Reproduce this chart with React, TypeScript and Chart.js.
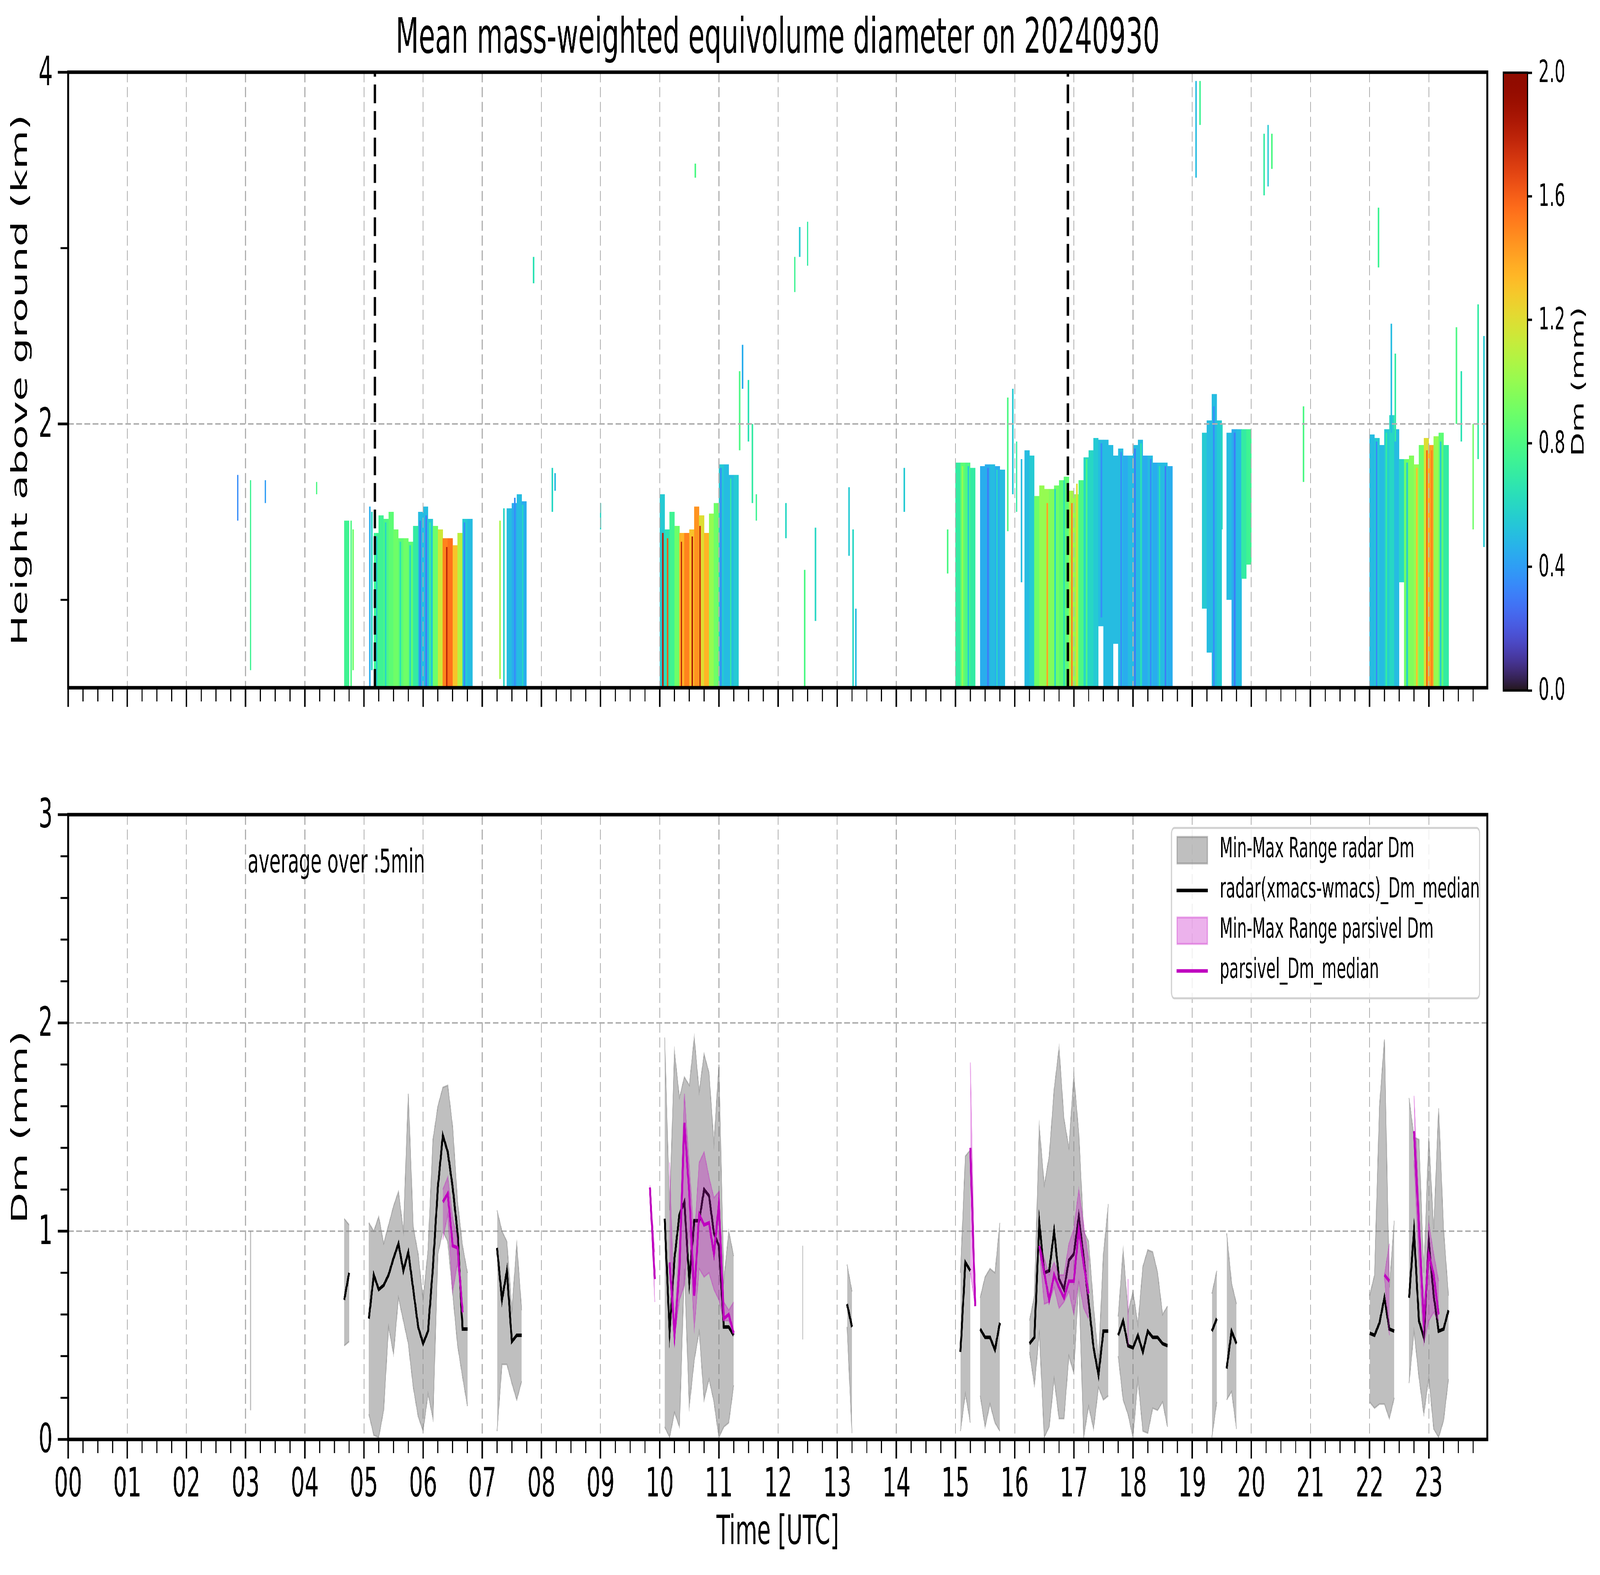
import React, { useEffect, useRef } from 'react';
import { Chart, registerables } from 'chart.js';

Chart.register(...registerables);
Chart.defaults.font.family = "'DejaVu Sans', sans-serif";
Chart.defaults.color = '#000';

// ---------- tick labels ----------
const hourTicks = ['00', '01', '02', '03', '04', '05', '06', '07', '08', '09', '10', '11',
  '12', '13', '14', '15', '16', '17', '18', '19', '20', '21', '22', '23'];
const heightTicks = [2, 4];
const dmTicks = [0, 1, 2, 3];
const cbTicks = [0, 0.4, 0.8, 1.2, 1.6, 2.0];

// ---------- top panel: radar Dm columns (5-min bins, start time) ----------
const colStart = ['04:40',
  '05:10', '05:15', '05:20', '05:25', '05:30', '05:35', '05:40', '05:45', '05:50', '05:55',
  '06:00', '06:05', '06:10', '06:15', '06:20', '06:25', '06:30', '06:35', '06:40', '06:45',
  '07:25', '07:30', '07:35', '07:40',
  '10:00', '10:05', '10:10', '10:15', '10:20', '10:25', '10:30', '10:35', '10:40', '10:45',
  '10:50', '10:55', '11:00', '11:05', '11:10', '11:15',
  '15:00', '15:05', '15:10', '15:15', '15:25', '15:30', '15:35', '15:40', '15:45',
  '16:10', '16:15', '16:20', '16:25', '16:30', '16:35', '16:40', '16:45', '16:50', '16:55',
  '17:00', '17:05', '17:10', '17:15', '17:20', '17:25', '17:30', '17:35', '17:40', '17:45',
  '17:50', '17:55', '18:00', '18:05', '18:10', '18:15', '18:20', '18:25', '18:30', '18:35',
  '19:10', '19:15', '19:20', '19:25', '19:35', '19:40', '19:45', '19:50', '19:55',
  '22:00', '22:05', '22:10', '22:15', '22:20', '22:25', '22:30', '22:35', '22:40', '22:45',
  '22:50', '22:55', '23:00', '23:05', '23:10', '23:15'];
const colBase = [0.5,
  0.5, 0.5, 0.5, 0.5, 0.5, 0.5, 0.5, 0.5, 0.5, 0.5,
  0.5, 0.5, 0.5, 0.5, 0.5, 0.5, 0.5, 0.5, 0.5, 0.5,
  0.5, 0.5, 0.5, 0.5,
  0.5, 0.5, 0.5, 0.5, 0.5, 0.5, 0.5, 0.5, 0.5, 0.5,
  0.5, 0.5, 0.5, 0.5, 0.5, 0.5,
  0.5, 0.5, 0.5, 0.5, 0.5, 0.5, 0.5, 0.5, 0.5,
  0.5, 0.5, 0.5, 0.5, 0.5, 0.5, 0.5, 0.5, 0.5, 0.5,
  0.5, 0.5, 0.5, 0.5, 0.5, 0.85, 0.5, 0.5, 0.75, 0.5,
  0.5, 0.5, 0.5, 0.5, 0.5, 0.5, 0.5, 0.5, 0.5, 0.5,
  0.95, 0.7, 0.5, 0.5, 1.0, 0.5, 0.5, 1.12, 1.2,
  0.5, 0.5, 0.5, 0.5, 0.5, 0.5, 1.1, 0.5, 0.5, 0.5,
  0.5, 0.5, 0.5, 0.5, 0.5, 0.5];
const colTop = [1.45,
  1.38, 1.48, 1.46, 1.50, 1.40, 1.35, 1.35, 1.33, 1.42, 1.50,
  1.53, 1.46, 1.42, 1.40, 1.35, 1.35, 1.31, 1.38, 1.46, 1.46,
  1.52, 1.55, 1.60, 1.56,
  1.60, 1.40, 1.50, 1.42, 1.38, 1.38, 1.40, 1.53, 1.48, 1.38,
  1.49, 1.55, 1.77, 1.77, 1.71, 1.71,
  1.78, 1.78, 1.78, 1.75, 1.76, 1.77, 1.77, 1.76, 1.74,
  1.85, 1.82, 1.59, 1.65, 1.63, 1.63, 1.65, 1.68, 1.70, 1.62,
  1.60, 1.68, 1.81, 1.85, 1.92, 1.91, 1.91, 1.88, 1.82, 1.86,
  1.82, 1.82, 1.88, 1.91, 1.82, 1.82, 1.78, 1.78, 1.78, 1.76,
  1.95, 2.02, 2.17, 2.02, 1.95, 1.97, 1.97, 1.97, 1.97,
  1.94, 1.92, 1.88, 1.97, 2.05, 1.97, 1.80, 1.80, 1.82, 1.77,
  1.88, 1.92, 1.88, 1.93, 1.95, 1.88];
const colDm = [0.75,
  0.75, 0.75, 0.8, 0.85, 0.9, 0.85, 0.9, 0.85, 0.7, 0.5,
  0.5, 0.55, 0.9, 1.15, 1.5, 1.55, 1.3, 1.1, 0.55, 0.5,
  0.5, 0.45, 0.5, 0.45,
  0.55, 0.65, 0.75, 0.9, 1.35, 1.5, 1.3, 1.45, 1.2, 1.35,
  1.0, 0.9, 0.55, 0.5, 0.5, 0.55,
  0.7, 0.85, 0.8, 0.7, 0.45, 0.45, 0.5, 0.45, 0.5,
  0.5, 0.55, 0.9, 1.0, 1.0, 0.95, 0.9, 0.85, 0.85, 1.05,
  1.0, 0.8, 0.6, 0.6, 0.55, 0.5, 0.5, 0.5, 0.5, 0.5,
  0.45, 0.5, 0.5, 0.5, 0.45, 0.5, 0.45, 0.5, 0.5, 0.45,
  0.55, 0.5, 0.5, 0.55, 0.5, 0.45, 0.5, 0.7, 0.75,
  0.5, 0.55, 0.5, 0.55, 0.6, 0.5, 0.6, 0.9, 0.95, 1.0,
  0.9, 1.2, 1.4, 1.0, 0.85, 0.7];

// thin echoes and single-profile streaks (time, bottom km, top km, Dm)
const streakTime = ['02:52', '03:05', '03:20', '04:12', '04:47', '04:49', '05:06', '05:08', '07:18', '07:22',
  '07:52', '08:11', '08:14', '09:00', '10:36', '11:21', '11:24', '11:30', '11:34', '11:38',
  '12:08', '12:17', '12:22', '12:27', '12:30', '12:38', '13:12', '13:16', '13:19', '14:08',
  '14:52', '15:53', '15:58', '16:02', '16:07', '19:04', '19:08', '19:30', '20:13', '20:17',
  '20:21', '20:53', '22:09', '22:22', '22:26', '23:28', '23:33', '23:45', '23:50', '23:56',
  '05:57', '06:03', '06:24', '10:03', '10:08', '10:22', '10:33', '10:41', '16:33', '16:58',
  '22:58', '23:03',
  '05:13', '05:22', '05:37', '05:47', '06:07', '06:42', '07:33', '07:41', '11:02', '11:12',
  '15:07', '15:13', '15:33', '15:42', '16:41', '16:50', '17:03', '17:13', '17:28', '17:48',
  '18:02', '18:08', '18:18', '18:27', '18:33', '19:22', '19:43', '22:07', '22:17', '22:38',
  '22:48', '23:12'];
const streakBase = [1.45, 0.6, 1.55, 1.6, 0.5, 0.6, 0.5, 0.6, 0.55, 0.5,
  2.8, 1.5, 1.62, 1.4, 3.4, 1.85, 2.2, 1.9, 1.55, 1.45,
  1.35, 2.75, 2.95, 0.5, 2.9, 0.88, 1.25, 0.5, 0.5, 1.5,
  1.15, 1.39, 1.6, 1.5, 1.1, 3.4, 3.7, 1.4, 3.3, 3.35,
  3.45, 1.67, 2.89, 1.95, 1.9, 2.0, 1.9, 1.4, 1.8, 1.3,
  0.5, 0.5, 0.5, 0.5, 0.5, 0.5, 0.5, 0.5, 0.5, 0.5,
  0.5, 0.5,
  0.5, 0.5, 0.5, 0.5, 0.5, 0.5, 0.5, 0.5, 0.5, 0.5,
  0.5, 0.5, 0.5, 0.5, 0.5, 0.5, 0.5, 0.5, 0.9, 0.5,
  0.5, 0.5, 0.5, 0.5, 0.5, 0.5, 0.5, 0.5, 0.5, 0.5,
  0.5, 0.5];
const streakTop = [1.71, 1.68, 1.68, 1.67, 1.45, 1.40, 1.53, 1.50, 1.45, 1.52,
  2.95, 1.75, 1.72, 1.55, 3.48, 2.3, 2.45, 2.25, 2.0, 1.6,
  1.55, 2.95, 3.12, 1.17, 3.15, 1.41, 1.64, 1.40, 0.95, 1.75,
  1.40, 2.15, 2.2, 1.9, 1.8, 3.95, 3.95, 2.0, 3.65, 3.7,
  3.65, 2.1, 3.23, 2.57, 2.4, 2.55, 2.3, 2.0, 2.68, 2.5,
  1.45, 1.48, 1.30, 1.38, 1.35, 1.33, 1.36, 1.42, 1.55, 1.55,
  1.85, 1.85,
  1.36, 1.44, 1.33, 1.31, 1.44, 1.44, 1.58, 1.54, 1.75, 1.69,
  1.76, 1.76, 1.75, 1.74, 1.63, 1.68, 1.66, 1.80, 1.89, 1.84,
  1.86, 1.89, 1.80, 1.76, 1.76, 2.10, 1.95, 1.90, 1.95, 1.78,
  1.75, 1.90];
const streakDm = [0.35, 0.75, 0.4, 0.8, 0.8, 0.9, 0.45, 0.6, 1.05, 0.6,
  0.65, 0.6, 0.5, 0.6, 0.8, 0.8, 0.45, 0.65, 0.7, 0.75,
  0.6, 0.75, 0.55, 0.8, 0.7, 0.6, 0.55, 0.6, 0.5, 0.55,
  0.8, 0.8, 0.55, 0.7, 0.5, 0.5, 0.75, 0.6, 0.7, 0.55,
  0.8, 0.8, 0.75, 0.5, 0.7, 0.8, 0.65, 0.9, 0.7, 0.55,
  0.3, 0.3, 1.8, 1.8, 1.6, 1.8, 1.85, 1.75, 1.4, 1.5,
  1.6, 1.5,
  0.55, 0.6, 0.65, 0.6, 0.75, 0.35, 0.35, 0.6, 0.35, 0.7,
  1.0, 0.55, 0.3, 0.6, 0.6, 0.65, 1.2, 0.8, 0.35, 0.35,
  0.3, 0.65, 0.35, 0.65, 0.3, 0.35, 0.3, 0.35, 0.7, 0.55,
  1.3, 0.55];

// dashed reference times
const markerTimes = ['05:11', '16:54'];

// ---------- bottom panel: 5-min statistics (null = no data) ----------
const radarTime = ['03:05', '03:10', '04:40', '04:45', '04:50',
  '05:05', '05:10', '05:15', '05:20', '05:25', '05:30', '05:35', '05:40', '05:45', '05:50', '05:55',
  '06:00', '06:05', '06:10', '06:15', '06:20', '06:25', '06:30', '06:35', '06:40', '06:45', '06:50',
  '07:15', '07:20', '07:25', '07:30', '07:35', '07:40', '07:45',
  '10:05', '10:10', '10:15', '10:20', '10:25', '10:30', '10:35', '10:40', '10:45', '10:50', '10:55',
  '11:00', '11:05', '11:10', '11:15', '11:20', '12:25', '12:30', '13:10', '13:15', '13:20',
  '15:05', '15:10', '15:15', '15:20', '15:25', '15:30', '15:35', '15:40', '15:45', '15:50',
  '16:15', '16:20', '16:25', '16:30', '16:35', '16:40', '16:45', '16:50', '16:55',
  '17:00', '17:05', '17:10', '17:15', '17:20', '17:25', '17:30', '17:35', '17:40',
  '17:45', '17:50', '17:55', '18:00', '18:05', '18:10', '18:15', '18:20', '18:25', '18:30', '18:35', '18:40',
  '19:20', '19:25', '19:30', '19:35', '19:40', '19:45', '19:50',
  '22:00', '22:05', '22:10', '22:15', '22:20', '22:25', '22:30',
  '22:40', '22:45', '22:50', '22:55', '23:00', '23:05', '23:10', '23:15', '23:20'];
const radarMedian = [null, null, 0.67, 0.80, null,
  0.58, 0.79, 0.72, 0.74, 0.79, 0.87, 0.94, 0.81, 0.90, 0.72, 0.54,
  0.46, 0.52, 0.83, 1.21, 1.46, 1.38, 1.21, 0.99, 0.53, 0.53, null,
  0.92, 0.67, 0.81, 0.47, 0.50, 0.50, null,
  1.06, 0.52, 0.87, 1.08, 1.14, 0.76, 1.05, 1.05, 1.20, 1.17, 0.99,
  0.93, 0.54, 0.54, 0.50, null, null, null, 0.65, 0.54, null,
  0.42, 0.85, 0.81, null, 0.53, 0.49, 0.49, 0.43, 0.56, null,
  0.46, 0.49, 1.04, 0.80, 0.81, 1.00, 0.77, 0.72, 0.86,
  0.89, 1.07, 0.87, 0.66, 0.44, 0.31, 0.52, 0.52, null,
  0.50, 0.57, 0.45, 0.44, 0.50, 0.42, 0.52, 0.49, 0.49, 0.46, 0.45, null,
  0.52, 0.58, null, 0.34, 0.52, 0.46, null,
  0.51, 0.50, 0.56, 0.68, 0.53, 0.52, null,
  0.68, 1.00, 0.57, 0.49, 0.95, 0.69, 0.52, 0.53, 0.62];
const radarMin = [0.14, null, 0.45, 0.47, null,
  0.12, 0.02, 0.01, 0.14, 0.54, 0.41, 0.68, 0.57, 0.46, 0.25, 0.11,
  0.04, 0.22, 0.10, 0.89, 1.00, 0.95, 0.70, 0.45, 0.30, 0.16, null,
  0.04, 0.36, 0.36, 0.27, 0.19, 0.28, null,
  0.06, 0.01, 0.13, 0.06, 0.82, 0.16, 0.38, 0.52, 0.19, 0.29, 0.18,
  0.01, 0.06, 0.08, 0.26, null, 0.48, null, 0.54, 0.03, null,
  0.04, 0.22, 0.08, null, 0.21, 0.06, 0.17, 0.08, 0.04, null,
  0.42, 0.26, 0.51, 0.01, 0.06, 0.29, 0.10, 0.10, 0.40,
  0.32, 0.76, 0.01, 0.16, 0.05, 0.25, 0.19, 0.21, null,
  0.40, 0.19, 0.12, 0.01, 0.29, 0.04, 0.03, 0.15, 0.14, 0.18, 0.06, null,
  0.01, 0.18, null, 0.19, 0.23, 0.05, null,
  0.18, 0.15, 0.17, 0.17, 0.10, 0.20, null,
  0.27, 0.52, 0.30, 0.12, 0.30, 0.05, 0.01, 0.09, 0.29];
const radarMax = [1.00, null, 1.06, 1.03, null,
  1.04, 1.00, 1.07, 0.94, 1.03, 1.12, 1.19, 1.00, 1.66, 1.02, 0.89,
  0.67, 0.91, 1.44, 1.60, 1.69, 1.70, 1.50, 1.14, 0.93, 0.80, null,
  1.10, 1.00, 0.95, 0.62, 0.94, 0.62, null,
  1.93, 1.10, 1.86, 1.64, 1.74, 1.70, 1.93, 1.67, 1.85, 1.76, 1.42,
  1.80, 0.76, 1.00, 0.88, null, 0.93, null, 0.84, 0.71, null,
  0.80, 1.36, 1.39, null, 0.68, 0.78, 0.82, 0.80, 1.04, null,
  0.57, 0.69, 1.50, 1.22, 1.36, 1.68, 1.88, 1.54, 1.40,
  1.75, 1.47, 1.00, 0.95, 0.64, 0.38, 0.89, 1.13, null,
  0.59, 0.91, 0.61, 0.71, 0.55, 0.83, 0.91, 0.90, 0.80, 0.60, 0.64, null,
  0.70, 0.81, null, 0.99, 0.75, 0.65, null,
  0.69, 0.79, 1.60, 1.92, 0.73, 1.05, null,
  1.64, 1.45, 1.44, 0.80, 1.45, 1.01, 1.59, 1.01, 0.69];

const parsTime = ['06:20', '06:25', '06:30', '06:35', '06:40', '06:45',
  '09:50', '09:55', '10:00',
  '10:10', '10:15', '10:20', '10:25', '10:30', '10:35', '10:40', '10:45', '10:50', '10:55',
  '11:00', '11:05', '11:10', '11:15', '11:20',
  '15:15', '15:20', '15:25',
  '16:25', '16:30', '16:35', '16:40', '16:45', '16:50', '16:55', '17:00', '17:05', '17:10', '17:15', '17:20',
  '17:55', '18:00', '22:15', '22:20', '22:25',
  '22:45', '22:50', '22:55', '23:00', '23:05', '23:10'];
const parsMedian = [1.14, 1.18, 0.93, 0.92, 0.61, null,
  1.21, 0.77, null,
  0.85, 0.50, 0.82, 1.52, 1.18, 0.69, 1.08, 1.03, 1.04, 0.89,
  1.13, 0.58, 0.60, 0.51, null,
  1.40, 0.64, null,
  0.93, 0.80, 0.67, 0.79, 0.73, 0.68, 0.76, 0.76, 1.01, 0.84, 0.70, null,
  null, null, 0.79, 0.76, null,
  1.48, 1.03, 0.57, 0.89, 0.79, 0.60];
const parsMin = [0.96, 1.08, 0.71, 0.85, 0.60, null,
  1.20, 0.66, null,
  0.80, 0.49, 0.67, 0.74, 1.00, 0.53, 0.82, 0.78, 0.80, 0.72,
  0.67, 0.57, 0.57, 0.50, null,
  0.80, 0.64, null,
  0.92, 0.65, 0.66, 0.73, 0.63, 0.66, 0.71, 0.60, 0.76, 0.63, 0.58, null,
  0.45, null, 0.78, 0.50, null,
  1.34, 0.86, 0.46, 0.57, 0.61, 0.57];
const parsMax = [1.20, 1.26, 1.06, 0.96, 0.63, null,
  1.22, 0.90, null,
  1.33, 0.55, 0.95, 1.66, 1.31, 0.96, 1.33, 1.38, 1.26, 1.16,
  1.19, 0.66, 0.62, 0.66, null,
  1.81, 0.65, null,
  0.93, 0.87, 0.79, 0.85, 0.79, 0.79, 0.94, 1.01, 1.20, 1.03, 0.86, null,
  0.77, null, 0.79, 0.94, null,
  1.65, 1.14, 0.58, 1.04, 0.89, 0.76];

const legendLabels = ['Min-Max Range radar Dm', 'radar(xmacs-wmacs)_Dm_median',
  'Min-Max Range parsivel Dm', 'parsivel_Dm_median'];

// ---------- helpers ----------
const FIG_W = 7442;
const FIG_H = 4031;

const toH = (t: string) => {
  const [h, m] = t.split(':').map(Number);
  return h + m / 60;
};

function turbo(v: number) {
  const x = Math.max(0, Math.min(1, v));
  const r = 34.61 + x * (1172.33 - x * (10793.56 - x * (33300.12 - x * (38394.49 - x * 14825.05))));
  const g = 23.31 + x * (557.33 + x * (1225.33 - x * (3574.96 - x * (1073.77 + x * 707.56))));
  const b = 27.2 + x * (3211.1 - x * (15327.97 - x * (27814 - x * (22569.18 - x * 6838.66))));
  const c = (n: number) => Math.max(0, Math.min(255, Math.round(n)));
  return `rgb(${c(r)},${c(g)},${c(b)})`;
}
const DM_MAX = 2;

const FONT = 103;
const GRID = '#b0b0b0';
const DASH = [26, 12];
const GRAY_A = 'rgba(128,128,128,0.5)';
const MAG = '#bf00bf';
const MAG_A = 'rgba(191,0,191,0.3)';

const framePlugin = {
  id: 'frame',
  afterDraw(chart: any, _a: any, opts: any) {
    const { ctx, chartArea: ca } = chart;
    ctx.save();
    ctx.strokeStyle = '#000';
    ctx.lineWidth = opts.width || 9;
    ctx.strokeRect(ca.left, ca.top, ca.right - ca.left, ca.bottom - ca.top);
    ctx.restore();
  },
};

const minorTicksPlugin = {
  id: 'minorTicks',
  afterDraw(chart: any, _a: any, opts: any) {
    const { ctx, chartArea: ca, scales } = chart;
    ctx.save();
    ctx.strokeStyle = '#000';
    ctx.lineWidth = opts.width;
    ctx.beginPath();
    (opts.x || []).forEach((v: number) => {
      const px = scales.x.getPixelForValue(v);
      ctx.moveTo(px, ca.bottom);
      ctx.lineTo(px, ca.bottom + opts.length);
    });
    (opts.y || []).forEach((v: number) => {
      const py = scales.y.getPixelForValue(v);
      ctx.moveTo(ca.left - opts.length, py);
      ctx.lineTo(ca.left, py);
    });
    ctx.stroke();
    ctx.restore();
  },
};

// a band made of one sample only is drawn as a vertical stroke
const isolatedBandPlugin = {
  id: 'isolatedBand',
  afterDatasetsDraw(chart: any, _a: any, opts: any) {
    const { ctx, scales } = chart;
    ctx.save();
    (opts.bands || []).forEach((b: any) => {
      ctx.strokeStyle = b.color;
      ctx.lineWidth = b.width;
      b.time.forEach((t: string, i: number) => {
        if (b.min[i] == null || b.max[i] == null) return;
        const prev = i > 0 ? b.min[i - 1] : null;
        const next = i < b.time.length - 1 ? b.min[i + 1] : null;
        if (prev != null || next != null) return;
        const px = scales.x.getPixelForValue(toH(t));
        ctx.beginPath();
        ctx.moveTo(px, scales.y.getPixelForValue(b.min[i]));
        ctx.lineTo(px, scales.y.getPixelForValue(b.max[i]));
        ctx.stroke();
      });
    });
    ctx.restore();
  },
};

const legendPlugin = {
  id: 'boxLegend',
  afterDraw(chart: any) {
    const { ctx, chartArea: ca } = chart;
    const w = 1433, h = 436, r = 14;
    const x0 = ca.right - 36 - w, y0 = ca.top + 34;
    ctx.save();
    ctx.beginPath();
    ctx.moveTo(x0 + r, y0);
    ctx.arcTo(x0 + w, y0, x0 + w, y0 + h, r);
    ctx.arcTo(x0 + w, y0 + h, x0, y0 + h, r);
    ctx.arcTo(x0, y0 + h, x0, y0, r);
    ctx.arcTo(x0, y0, x0 + w, y0, r);
    ctx.closePath();
    ctx.fillStyle = 'rgba(255,255,255,0.8)';
    ctx.fill();
    ctx.strokeStyle = '#d0d0d0';
    ctx.lineWidth = 5;
    ctx.stroke();
    const kinds = [
      { patch: true, fill: GRAY_A },
      { patch: false, color: '#000' },
      { patch: true, fill: MAG_A },
      { patch: false, color: MAG },
    ];
    ctx.font = "71px 'DejaVu Sans'";
    ctx.textBaseline = 'middle';
    legendLabels.forEach((lab, i) => {
      const cy = y0 + 57 + i * 103;
      const k: any = kinds[i];
      if (k.patch) {
        ctx.fillStyle = k.fill;
        ctx.fillRect(x0 + 26, cy - 34, 141, 68);
        ctx.strokeStyle = k.fill;
        ctx.lineWidth = 5;
        ctx.strokeRect(x0 + 26, cy - 34, 141, 68);
      } else {
        ctx.strokeStyle = k.color;
        ctx.lineWidth = 9;
        ctx.beginPath();
        ctx.moveTo(x0 + 24, cy);
        ctx.lineTo(x0 + 169, cy);
        ctx.stroke();
      }
      ctx.fillStyle = '#000';
      ctx.fillText(lab, x0 + 224, cy);
    });
    ctx.restore();
  },
};

const notePlugin = {
  id: 'note',
  afterDraw(chart: any) {
    const { ctx, chartArea: ca } = chart;
    ctx.save();
    ctx.font = "84px 'DejaVu Sans'";
    ctx.fillStyle = '#000';
    ctx.textBaseline = 'alphabetic';
    ctx.fillText('average over :5min', ca.left + 0.1265 * (ca.right - ca.left), ca.top + 0.0926 * (ca.bottom - ca.top));
    ctx.restore();
  },
};

const cbLabelPlugin = {
  id: 'cbLabel',
  afterDraw(chart: any) {
    const { ctx, chartArea: ca } = chart;
    ctx.save();
    ctx.translate(ca.right + 240, (ca.top + ca.bottom) / 2);
    ctx.rotate(-Math.PI / 2);
    ctx.font = "80px 'DejaVu Sans'";
    ctx.fillStyle = '#000';
    ctx.textAlign = 'center';
    ctx.textBaseline = 'middle';
    ctx.fillText('Dm (mm)', 0, 0);
    ctx.restore();
  },
};

const minorX: number[] = [];
for (let q = 1; q < 96; q++) if (q % 4 !== 0) minorX.push(q / 4);
const minorYBottom: number[] = [];
for (let q = 1; q < 15; q++) if (q % 5 !== 0) minorYBottom.push(q / 5);

const xAxis = (labels: boolean, gridZ: number) => ({
  type: 'linear',
  min: 0,
  max: 23.99,
  offset: false,
  afterBuildTicks: (a: any) => { a.ticks = hourTicks.map((_, i) => ({ value: i })); },
  afterFit: (a: any) => { a.height = labels ? 347 : 60; },
  ticks: {
    display: labels,
    autoSkip: false,
    maxRotation: 0,
    padding: 8,
    font: { size: FONT },
    callback: (v: number) => hourTicks[Math.round(v)],
  },
  grid: { color: GRID, lineWidth: 4, tickLength: 49, tickWidth: 7, tickColor: '#000', z: gridZ, offset: false },
  border: { display: false, dash: DASH },
  title: labels
    ? { display: true, text: 'Time [UTC]', font: { size: FONT }, padding: { top: 0, bottom: 44 } }
    : { display: false },
});

const yAxis = (min: number, max: number, major: number[], title: string, gridZ: number) => ({
  type: 'linear',
  min,
  max,
  afterBuildTicks: (a: any) => { a.ticks = major.map((v) => ({ value: v })); },
  afterFit: (a: any) => { a.width = 317; },
  ticks: { padding: 23, labelOffset: 6, font: { size: FONT }, callback: (v: number) => String(v) },
  grid: { color: GRID, lineWidth: 4, tickLength: 49, tickWidth: 7, tickColor: '#000', z: gridZ },
  border: { display: false, dash: DASH },
  title: { display: true, text: title, font: { size: FONT }, padding: { top: 37, bottom: 0 } },
});

const pts = (times: string[], vals: (number | null)[]) =>
  times.map((t, i) => ({ x: toH(t), y: vals[i] }));

const App: React.FC = () => {
  const topRef = useRef<HTMLCanvasElement>(null);
  const botRef = useRef<HTMLCanvasElement>(null);
  const cbRef = useRef<HTMLCanvasElement>(null);
  // the figure is laid out in image pixels and stretched onto the actual window
  const sx = typeof window !== 'undefined' && window.innerWidth ? window.innerWidth / FIG_W : 1;
  const sy = typeof window !== 'undefined' && window.innerHeight ? window.innerHeight / FIG_H : 1;

  useEffect(() => {
    const charts: Chart[] = [];

    // ----- top: time-height Dm -----
    if (topRef.current) {
      const colData = colStart.map((t, i) => ({ x: toH(t) + 2.5 / 60, y: [colBase[i], colTop[i]] }));
      const colColors = colDm.map((v) => turbo(v / DM_MAX));
      const streakData: any[] = [];
      streakTime.forEach((t, i) => {
        streakData.push({ x: toH(t), y: streakBase[i] }, { x: toH(t), y: streakTop[i] }, { x: toH(t), y: null });
      });
      const streakColors = streakDm.map((v) => turbo(v / DM_MAX));
      const markerData: any[] = [];
      markerTimes.forEach((t) => {
        markerData.push({ x: toH(t), y: 0.5 }, { x: toH(t), y: 4 }, { x: toH(t), y: null });
      });

      charts.push(new Chart(topRef.current, {
        type: 'bar',
        data: {
          datasets: [
            {
              type: 'line', data: markerData, borderColor: '#000', borderWidth: 11,
              borderDash: [48, 20], pointRadius: 0, spanGaps: false, order: 0,
            } as any,
            {
              type: 'line', data: streakData, borderWidth: 7, pointRadius: 0, spanGaps: false,
              borderCapStyle: 'butt', borderColor: 'rgba(0,0,0,0)', order: 1,
              segment: { borderColor: (c: any) => streakColors[Math.floor(c.p0DataIndex / 3)] },
            } as any,
            {
              type: 'bar', data: colData, backgroundColor: colColors, borderWidth: 0,
              barPercentage: 1.06, categoryPercentage: 1, order: 2,
            } as any,
          ],
        },
        options: {
          animation: false,
          responsive: false,
          devicePixelRatio: 1,
          layout: { padding: { left: 0, right: 72, top: 0, bottom: 0 } },
          plugins: {
            legend: { display: false },
            tooltip: { enabled: false },
            title: {
              display: true,
              text: 'Mean mass-weighted equivolume diameter on 20240930',
              font: { size: 124, weight: 'normal', lineHeight: 1.2 },
              color: '#000',
              fullSize: false,
              padding: { top: 28, bottom: 8 },
            },
            frame: { width: 9 },
            minorTicks: { x: minorX, y: [1, 3], length: 35, width: 5 },
          } as any,
          scales: {
            x: xAxis(false, 1),
            y: yAxis(0.5, 4, heightTicks, 'Height above ground (km)', 1),
          } as any,
        },
        plugins: [framePlugin, minorTicksPlugin],
      }));
    }

    // ----- bottom: min-max range and medians -----
    if (botRef.current) {
      charts.push(new Chart(botRef.current, {
        type: 'line',
        data: {
          datasets: [
            { data: pts(radarTime, radarMin), borderColor: GRAY_A, borderWidth: 4, pointRadius: 0, fill: false, order: 6 },
            { data: pts(radarTime, radarMax), borderColor: GRAY_A, borderWidth: 4, pointRadius: 0, fill: 0, backgroundColor: GRAY_A, order: 5 },
            { data: pts(radarTime, radarMedian), borderColor: '#000', borderWidth: 9, pointRadius: 0, fill: false, order: 4 },
            { data: pts(parsTime, parsMin), borderColor: MAG_A, borderWidth: 4, pointRadius: 0, fill: false, order: 3 },
            { data: pts(parsTime, parsMax), borderColor: MAG_A, borderWidth: 4, pointRadius: 0, fill: 3, backgroundColor: MAG_A, order: 2 },
            { data: pts(parsTime, parsMedian), borderColor: MAG, borderWidth: 9, pointRadius: 0, fill: false, order: 1 },
          ] as any,
        },
        options: {
          animation: false,
          responsive: false,
          devicePixelRatio: 1,
          spanGaps: false,
          layout: { padding: { left: 0, right: 82, top: 85, bottom: 0 } },
          plugins: {
            legend: { display: false },
            tooltip: { enabled: false },
            frame: { width: 9 },
            minorTicks: { x: minorX, y: minorYBottom, length: 35, width: 5 },
            isolatedBand: {
              bands: [
                { time: radarTime, min: radarMin, max: radarMax, color: 'rgba(128,128,128,0.5)', width: 5 },
                { time: parsTime, min: parsMin, max: parsMax, color: 'rgba(191,0,191,0.3)', width: 5 },
              ],
            },
          } as any,
          scales: {
            x: xAxis(true, 0),
            y: yAxis(0, 3, dmTicks, 'Dm (mm)', 0),
          } as any,
        },
        plugins: [framePlugin, minorTicksPlugin, isolatedBandPlugin, notePlugin, legendPlugin],
      }));
    }

    // ----- colour bar -----
    if (cbRef.current) {
      const grad = (c: any) => {
        const { ctx, chartArea } = c.chart;
        if (!chartArea) return '#000';
        const g = ctx.createLinearGradient(0, chartArea.bottom, 0, chartArea.top);
        for (let k = 0; k <= 64; k++) g.addColorStop(k / 64, turbo(k / 64));
        return g;
      };
      charts.push(new Chart(cbRef.current, {
        type: 'bar',
        data: {
          labels: ['Dm'],
          datasets: [{ data: [[0, DM_MAX]] as any, backgroundColor: grad, borderWidth: 0, barPercentage: 1, categoryPercentage: 1 }],
        },
        options: {
          animation: false,
          responsive: false,
          devicePixelRatio: 1,
          layout: { padding: { left: 32, top: 186, bottom: 60, right: 0 } },
          plugins: {
            legend: { display: false },
            tooltip: { enabled: false },
            frame: { width: 6 },
          } as any,
          scales: {
            x: { display: false },
            y: {
              position: 'right',
              min: 0,
              max: DM_MAX,
              afterBuildTicks: (a: any) => { a.ticks = cbTicks.map((v) => ({ value: v })); },
              afterFit: (a: any) => { a.width = 337; },
              ticks: { padding: 31, labelOffset: 4, font: { size: 78 }, callback: (v: number) => Number(v).toFixed(1) },
              grid: { drawOnChartArea: false, tickLength: 20, tickWidth: 6, tickColor: '#000' },
              border: { display: false },
            },
          } as any,
        },
        plugins: [framePlugin, cbLabelPlugin],
      }));
    }

    return () => { charts.forEach((c) => c.destroy()); };
  }, []);

  return (
    <div style={{ position: 'fixed', left: 0, top: 0, width: '100vw', height: '100vh', overflow: 'hidden', background: '#fff' }}>
      <div style={{ position: 'absolute', left: 0, top: 0, width: FIG_W, height: FIG_H, transform: `scale(${sx}, ${sy})`, transformOrigin: '0 0' }}>
        <canvas ref={topRef} width={6990} height={1845} style={{ position: 'absolute', left: 0, top: 0, width: 6990, height: 1845 }} />
        <canvas ref={cbRef} width={482} height={1845} style={{ position: 'absolute', left: 6960, top: 0, width: 482, height: 1845 }} />
        <canvas ref={botRef} width={7000} height={2031} style={{ position: 'absolute', left: 0, top: 2000, width: 7000, height: 2031 }} />
      </div>
    </div>
  );
};

export default App;
